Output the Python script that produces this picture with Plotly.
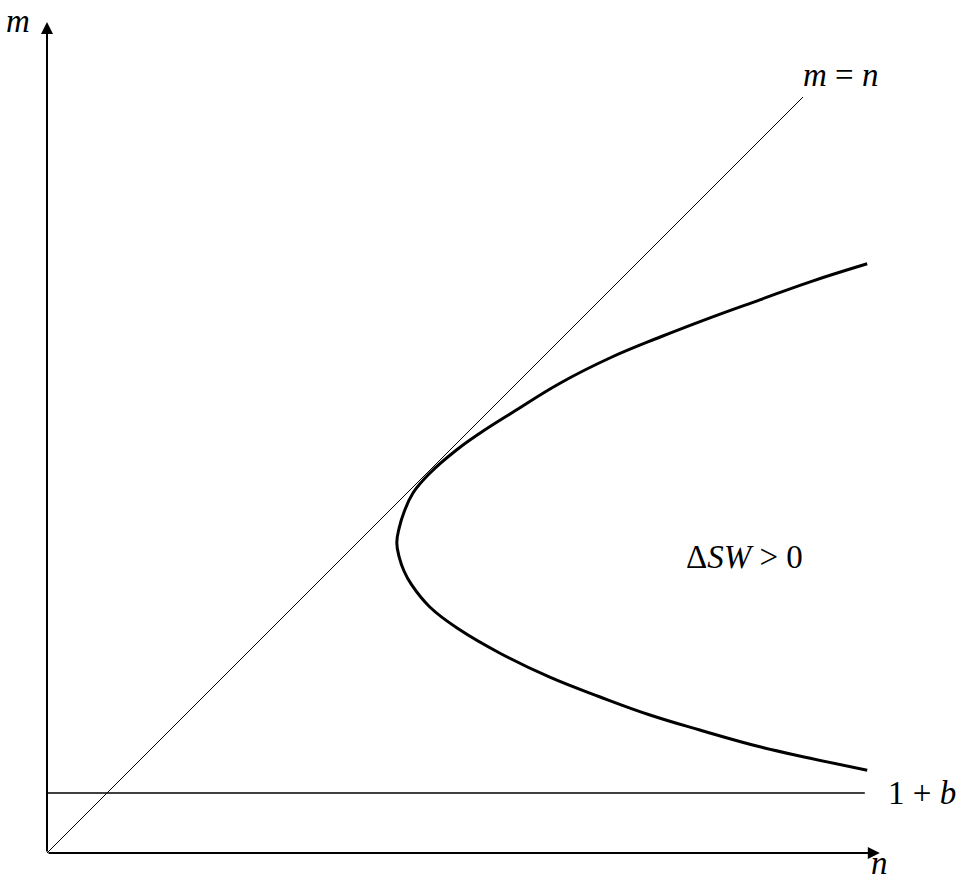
"""
Program to draw the Delta SW > 0 region bounded by a sideways parabola in the (n, m) plane
"""

import plotly.graph_objects as go

# curve, upper end -> vertex -> lower end
curve_n = [13.67, 12.72, 11.88, 11.05, 10.22, 9.38, 8.55, 7.77, 7.22, 6.83, 6.38, 6.10,
           5.95, 5.87, 5.83, 5.87, 5.95, 6.07,
           6.38, 6.88, 7.55, 8.38, 9.22, 10.05, 10.88, 11.88, 12.72, 13.67]
curve_m = [9.82, 9.52, 9.22, 8.92, 8.60, 8.25, 7.83, 7.35, 7.00, 6.72, 6.33, 6.00,
           5.68, 5.42, 5.17, 4.93, 4.70, 4.48,
           4.10, 3.72, 3.33, 2.93, 2.60, 2.30, 2.05, 1.77, 1.58, 1.38]

# the m = n diagonal
diag_n = [0.0, 12.6]
diag_m = [0.0, 12.6]

# the 1 + b level
level_n = [0.0, 13.63]
level_m = [1.0, 1.0]

# axis ends
n_max = 13.88
m_max = 13.85


def draw_plots():
    """
    description:
        Draws the curve, the diagonal, the 1+b line and the arrowed axes
    parameters:
        None
    return:
        None
    """
    fig = go.Figure()
    fig.add_trace(go.Scatter(x=diag_n, y=diag_m, mode='lines',
                             line=dict(color='black', width=1), hoverinfo='skip'))
    fig.add_trace(go.Scatter(x=level_n, y=level_m, mode='lines',
                             line=dict(color='black', width=1.6), hoverinfo='skip'))
    fig.add_trace(go.Scatter(x=curve_n, y=curve_m, mode='lines',
                             line=dict(color='black', width=3, shape='spline', smoothing=1.2),
                             hoverinfo='skip'))

    # axes with arrow heads
    for x_end, y_end in [(n_max, 0), (0, m_max)]:
        fig.add_annotation(x=x_end, y=y_end, ax=0, ay=0, xref='x', yref='y',
                           axref='x', ayref='y', text='', showarrow=True,
                           arrowhead=2, arrowsize=1.2, arrowwidth=2, arrowcolor='black')

    label_font = dict(family='Liberation Serif', size=33, color='black')
    labels = [
        (-0.48, 13.87, '<i>m</i>'),
        (13.88, -0.17, '<i>n</i>'),
        (13.22, 12.97, '<i>m</i> = <i>n</i>'),
        (14.58, 1.0, '1 + <i>b</i>'),
        (11.63, 4.93, 'Δ<i>SW</i> > 0'),
    ]
    for x_pos, y_pos, txt in labels:
        fig.add_annotation(x=x_pos, y=y_pos, xref='x', yref='y', text=txt,
                           showarrow=False, font=label_font)

    fig.update_xaxes(visible=False, range=[-47 / 60, 914 / 60])
    fig.update_yaxes(visible=False, range=[-28 / 60, 853 / 60])
    fig.update_layout(width=961, height=881, margin=dict(l=0, r=0, t=0, b=0),
                      plot_bgcolor='white', paper_bgcolor='white', showlegend=False)
    # page body margin would push the figure off the window
    fig.write_html("out.html", config={'displayModeBar': False},
                   post_script="document.body.style.margin='0';")


def main():
    draw_plots()


if __name__ == "__main__":
    main()
